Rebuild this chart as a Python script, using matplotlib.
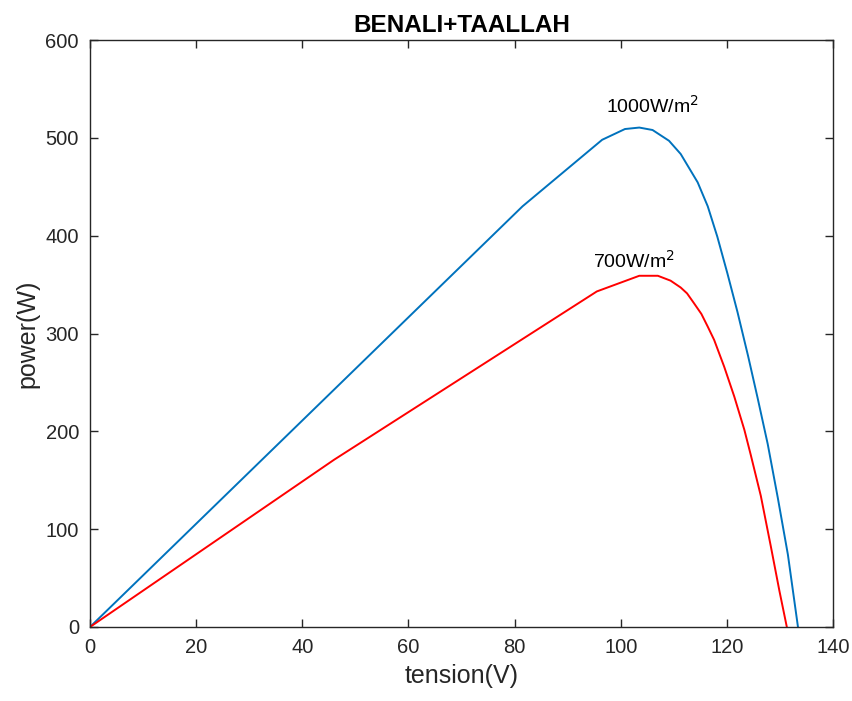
import matplotlib
matplotlib.use("Agg")
import matplotlib.pyplot as plt

plt.rcParams['font.family'] = ['Liberation Sans', 'DejaVu Sans']

# 1000 W/m^2 curve
v_1000 = [0, 81.5, 96.5, 100.8, 103.5, 106.0, 109.1, 111.3, 114.5, 116.4, 118.2, 120.1, 122.0, 124.0, 125.8, 127.7, 129.6, 131.5, 133.4]
p_1000 = [0, 430, 498, 509, 510.5, 508, 497, 483.5, 454.5, 430, 399, 361.5, 322, 277, 234, 187, 132, 74, 0]

# 700 W/m^2 curve
v_700 = [0, 46, 95.5, 103.5, 107.0, 109.4, 111.3, 112.5, 113.8, 115.2, 116.4, 117.6, 119.5, 121.4, 123.3, 124.5, 126.4, 128.3, 129.9, 131.3]
p_700 = [0, 171, 343, 359, 359, 354, 347, 341, 331, 320, 307, 293.5, 266, 235.5, 201.5, 176, 134, 82, 37, 0]

xticks = [0, 20, 40, 60, 80, 100, 120, 140]
yticks = [0, 100, 200, 300, 400, 500, 600]

fig = plt.figure(figsize=(8.53, 7.01), dpi=100)
ax = fig.add_axes([90/853, 1 - 627/701, 743/853, 587/701])

ax.plot(v_1000, p_1000, color='#0072BD', lw=1.4)
ax.plot(v_700, p_700, color='#FF0000', lw=1.4)

ax.text(105.9, 525.5, '1000W/m$^2$', fontsize=14, ha='center', va='baseline', color='black')
ax.text(102.6, 367, '700W/m$^2$', fontsize=14, ha='center', va='baseline', color='black')

ax.set_xlim(0, 140)
ax.set_ylim(0, 600)
ax.set_xticks(xticks)
ax.set_yticks(yticks)
ax.tick_params(direction='in', top=True, right=True, length=6, width=1.0,
               labelsize=14.5, colors='#262626', pad=8)
for s in ax.spines.values():
    s.set_color('#262626')
    s.set_linewidth(1.0)

ax.set_xlabel('tension(V)', fontsize=18, color='#262626', labelpad=5)
ax.set_ylabel('power(W)', fontsize=18, color='#262626', labelpad=4)
ax.set_title('BENALI+TAALLAH', fontsize=17.5, fontweight='bold', pad=6)

fig.savefig('out.png', dpi=100)
